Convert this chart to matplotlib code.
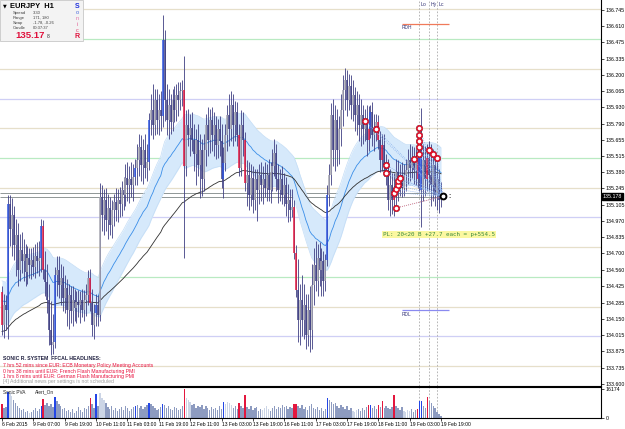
import numpy as np
import matplotlib.pyplot as plt

plt.rcParams['font.family'] = ['Liberation Sans', 'DejaVu Sans']

# EURJPY H1 bars
opens = [
    134.37, 134.10, 134.26, 134.22, 135.11, 134.90, 135.02, 134.77, 134.85, 134.56,
    134.73, 134.63, 134.69, 134.54, 134.66, 134.60, 134.64, 134.58, 134.68, 134.63,
    134.66, 134.93, 134.56, 134.46, 134.31, 134.05, 133.93, 133.95, 134.52, 134.56,
    134.43, 134.49, 134.32, 134.41, 134.22, 134.35, 134.21, 134.31, 134.24, 134.29,
    134.26, 134.31, 134.22, 134.31, 134.35, 134.49, 134.28, 134.10, 134.20, 134.26,
    134.18, 135.17, 135.02, 135.15, 134.98, 135.08, 134.94, 135.06, 135.13, 135.06,
    135.15, 135.11, 135.23, 135.19, 135.33, 135.27, 135.32, 135.27, 135.34, 135.42,
    135.48, 135.59, 135.44, 135.57, 135.42, 135.47, 135.82, 135.90, 135.78, 135.99,
    135.82, 135.90, 135.85, 136.49, 135.99, 135.82, 135.95, 135.80, 135.99, 135.90,
    136.03, 135.99, 136.06, 136.07, 135.43, 135.78, 135.69, 135.75, 135.65, 135.53,
    135.65, 135.44, 135.57, 135.32, 135.57, 135.78, 135.65, 135.82, 135.69, 135.78,
    135.61, 135.74, 135.64, 135.32, 135.46, 135.69, 135.86, 135.74, 135.95, 135.78,
    135.89, 135.69, 135.42, 135.78, 135.65, 135.29, 135.36, 135.19, 135.33, 135.15,
    135.32, 135.23, 135.36, 135.27, 135.32, 135.25, 135.36, 135.23, 135.38, 135.43,
    135.54, 135.32, 135.23, 135.32, 135.19, 135.27, 135.11, 135.15, 135.06, 135.09,
    134.70, 134.39, 134.14, 134.31, 134.14, 134.26, 134.01, 134.22, 134.05, 134.43,
    134.60, 134.47, 134.66, 134.56, 134.63, 134.47, 134.64, 135.19, 135.36, 135.86,
    135.57, 135.82, 135.57, 135.74, 135.90, 136.07, 136.16, 135.99, 136.11, 135.95,
    136.03, 135.86, 135.95, 135.78, 135.86, 135.74, 135.80, 135.65, 135.74, 135.89,
    135.69, 135.75, 135.80, 135.65, 135.48, 135.61, 135.44, 135.36, 135.15, 135.27,
    135.15, 135.25, 135.38, 135.27, 135.36, 135.25, 135.36, 135.40, 135.48, 135.42,
    135.50, 135.40, 135.50, 135.32, 135.57, 135.23, 135.48, 135.32, 135.50, 135.36,
    135.27, 135.44, 135.19, 135.32, 135.15,
]
highs = [
    134.42, 134.36, 134.35, 135.19, 135.19, 135.16, 135.10, 134.99, 134.95, 134.86,
    134.88, 134.82, 134.78, 134.76, 134.74, 134.74, 134.75, 134.78, 134.79, 134.80,
    134.99, 134.98, 134.72, 134.61, 134.44, 134.30, 134.19, 134.58, 134.68, 134.68,
    134.61, 134.59, 134.52, 134.48, 134.44, 134.42, 134.42, 134.40, 134.38, 134.39,
    134.38, 134.40, 134.39, 134.44, 134.56, 134.57, 134.40, 134.27, 134.36, 134.35,
    135.29, 135.27, 135.24, 135.25, 135.20, 135.17, 135.15, 135.20, 135.25, 135.24,
    135.26, 135.31, 135.34, 135.45, 135.47, 135.43, 135.47, 135.45, 135.49, 135.62,
    135.70, 135.69, 135.66, 135.70, 135.62, 135.88, 136.04, 136.12, 136.08, 136.08,
    136.04, 136.06, 136.70, 136.58, 136.12, 136.08, 136.04, 136.08, 136.11, 136.12,
    136.14, 136.14, 136.16, 136.36, 135.90, 135.91, 135.87, 135.89, 135.79, 135.74,
    135.79, 135.70, 135.66, 135.70, 135.87, 135.93, 135.91, 135.93, 135.89, 135.85,
    135.83, 135.85, 135.79, 135.59, 135.79, 135.95, 136.04, 136.06, 136.04, 135.98,
    135.97, 135.79, 135.90, 135.89, 135.72, 135.48, 135.47, 135.45, 135.43, 135.41,
    135.41, 135.45, 135.47, 135.43, 135.47, 135.45, 135.49, 135.47, 135.58, 135.66,
    135.62, 135.45, 135.41, 135.43, 135.37, 135.34, 135.28, 135.24, 135.24, 135.15,
    134.77, 134.65, 134.44, 134.52, 134.44, 134.36, 134.36, 134.42, 134.61, 134.74,
    134.80, 134.78, 134.79, 134.74, 134.72, 134.69, 135.27, 135.45, 135.96, 136.00,
    135.95, 135.91, 135.85, 136.04, 136.20, 136.26, 136.24, 136.21, 136.20, 136.16,
    136.10, 136.06, 136.04, 136.00, 135.95, 135.91, 135.95, 135.94, 135.95, 135.97,
    135.87, 135.87, 135.86, 135.73, 135.70, 135.70, 135.53, 135.49, 135.41, 135.37,
    135.37, 135.49, 135.48, 135.45, 135.47, 135.45, 135.49, 135.58, 135.62, 135.60,
    135.59, 135.58, 135.62, 135.70, 135.92, 135.62, 135.60, 135.62, 135.64, 135.62,
    135.58, 135.55, 135.48, 135.41, 135.30,
]
lows = [
    134.01, 133.99, 134.05, 133.98, 134.76, 134.68, 134.64, 134.51, 134.42, 134.47,
    134.53, 134.47, 134.42, 134.44, 134.49, 134.48, 134.51, 134.49, 134.53, 134.51,
    134.54, 134.48, 134.34, 134.20, 133.93, 133.84, 133.85, 133.90, 134.34, 134.32,
    134.26, 134.21, 134.20, 134.09, 134.06, 134.11, 134.09, 134.13, 134.11, 134.16,
    134.11, 134.16, 134.13, 134.17, 134.26, 134.21, 134.00, 133.98, 134.09, 134.09,
    134.13, 134.89, 134.85, 134.89, 134.82, 134.85, 134.83, 134.93, 134.97, 134.96,
    135.00, 135.01, 135.06, 135.10, 135.14, 135.12, 135.17, 135.14, 135.27, 135.27,
    135.35, 135.31, 135.28, 135.33, 135.31, 135.40, 135.69, 135.66, 135.69, 135.70,
    135.69, 135.73, 135.76, 135.81, 135.69, 135.66, 135.70, 135.73, 135.80, 135.81,
    135.85, 135.90, 135.94, 134.66, 135.35, 135.60, 135.52, 135.56, 135.39, 135.27,
    135.35, 135.16, 135.18, 135.22, 135.43, 135.52, 135.54, 135.56, 135.52, 135.49,
    135.50, 135.52, 135.25, 135.16, 135.39, 135.56, 135.60, 135.64, 135.60, 135.64,
    135.60, 135.35, 135.35, 135.52, 135.22, 135.10, 135.06, 135.10, 135.04, 135.06,
    134.97, 135.11, 135.14, 135.11, 135.17, 135.14, 135.14, 135.12, 135.22, 135.35,
    135.22, 135.12, 135.14, 135.11, 135.10, 135.01, 134.96, 134.97, 135.00, 134.65,
    134.33, 133.95, 133.93, 134.00, 133.98, 133.89, 133.92, 133.87, 133.89, 134.26,
    134.38, 134.34, 134.42, 134.34, 134.34, 134.38, 134.59, 135.10, 135.27, 135.43,
    135.39, 135.43, 135.45, 135.60, 135.77, 135.90, 135.85, 135.90, 135.83, 135.81,
    135.73, 135.69, 135.64, 135.60, 135.62, 135.64, 135.52, 135.56, 135.67, 135.60,
    135.56, 135.64, 135.58, 135.38, 135.39, 135.35, 135.27, 135.06, 135.01, 135.03,
    135.01, 135.10, 135.14, 135.18, 135.17, 135.18, 135.22, 135.28, 135.31, 135.33,
    135.28, 135.27, 135.25, 135.22, 134.92, 135.14, 135.18, 135.22, 135.22, 135.10,
    135.14, 135.10, 135.06, 135.04, 135.09,
]
closes = [
    134.10, 134.26, 134.22, 135.11, 134.90, 135.02, 134.77, 134.85, 134.56, 134.73,
    134.63, 134.69, 134.54, 134.66, 134.60, 134.64, 134.58, 134.68, 134.63, 134.66,
    134.93, 134.56, 134.46, 134.31, 134.05, 133.93, 133.95, 134.52, 134.56, 134.43,
    134.49, 134.32, 134.41, 134.22, 134.35, 134.21, 134.31, 134.24, 134.29, 134.26,
    134.31, 134.22, 134.31, 134.35, 134.49, 134.28, 134.10, 134.20, 134.26, 134.18,
    135.17, 135.02, 135.15, 134.98, 135.08, 134.94, 135.06, 135.13, 135.06, 135.15,
    135.11, 135.23, 135.19, 135.33, 135.27, 135.32, 135.27, 135.34, 135.42, 135.48,
    135.59, 135.44, 135.57, 135.42, 135.47, 135.82, 135.90, 135.78, 135.99, 135.82,
    135.90, 135.85, 136.49, 135.99, 135.82, 135.95, 135.80, 135.99, 135.90, 136.03,
    135.99, 136.06, 136.07, 135.43, 135.78, 135.69, 135.75, 135.65, 135.53, 135.65,
    135.44, 135.57, 135.32, 135.57, 135.78, 135.65, 135.82, 135.69, 135.78, 135.61,
    135.74, 135.64, 135.32, 135.46, 135.69, 135.86, 135.74, 135.95, 135.78, 135.89,
    135.69, 135.42, 135.78, 135.65, 135.29, 135.36, 135.19, 135.33, 135.15, 135.32,
    135.23, 135.36, 135.27, 135.32, 135.25, 135.36, 135.23, 135.38, 135.43, 135.54,
    135.32, 135.23, 135.32, 135.19, 135.27, 135.11, 135.15, 135.06, 135.09, 134.70,
    134.39, 134.14, 134.31, 134.14, 134.26, 134.01, 134.22, 134.05, 134.43, 134.60,
    134.47, 134.66, 134.56, 134.63, 134.47, 134.64, 135.19, 135.36, 135.86, 135.57,
    135.82, 135.57, 135.74, 135.90, 136.07, 136.16, 135.99, 136.11, 135.95, 136.03,
    135.86, 135.95, 135.78, 135.86, 135.74, 135.80, 135.65, 135.74, 135.89, 135.69,
    135.75, 135.80, 135.65, 135.48, 135.61, 135.44, 135.36, 135.15, 135.27, 135.15,
    135.25, 135.38, 135.27, 135.36, 135.25, 135.36, 135.40, 135.48, 135.42, 135.50,
    135.40, 135.50, 135.32, 135.57, 135.23, 135.48, 135.32, 135.50, 135.36, 135.27,
    135.44, 135.19, 135.32, 135.15, 135.178,
]
volumes = [
    7800, 5600, 6200, 14500, 14000, 12300, 10100, 8400, 6700, 5600,
    4500, 5000, 3400, 3900, 2800, 3400, 4500, 5600, 3900, 5000,
    6700, 10600, 7300, 8400, 6700, 7800, 6200, 11800, 9500, 7800,
    6700, 5000, 5600, 3900, 4500, 3400, 5000, 2800, 3900, 6200,
    4500, 3400, 5600, 5000, 6700, 11200, 7800, 5600, 13400, 6700,
    14000, 11200, 10100, 8400, 6200, 5000, 6700, 4500, 5600, 3900,
    5000, 6200, 4500, 6700, 5600, 3900, 5000, 6200, 6700, 7300,
    5600, 6700, 5000, 6200, 7300, 8400, 7800, 6700, 5600, 4500,
    5000, 6200, 7800, 7300, 5600, 6700, 5000, 4500, 6200, 5600,
    4500, 5000, 6700, 16174, 11200, 10100, 9000, 7300, 7800, 5600,
    6700, 6200, 7300, 5000, 6700, 5600, 4500, 6200, 5000, 5600,
    4500, 6700, 5000, 9000, 7800, 9000, 8400, 7300, 5600, 6700,
    5000, 8400, 6700, 5600, 12900, 6200, 5000, 6700, 4500, 5600,
    6200, 3900, 5000, 4500, 5600, 6700, 5000, 3900, 5600, 6700,
    5000, 6200, 5600, 7300, 6200, 6700, 5000, 6200, 5600, 7800,
    7800, 6700, 5600, 7300, 5000, 6200, 4500, 6700, 7800, 5600,
    5000, 6200, 4500, 5600, 3900, 5000, 11200, 10100, 9000, 7800,
    8400, 6700, 5600, 7300, 6200, 5000, 6700, 4500, 5600, 3900,
    3400, 4500, 5000, 3900, 5600, 4500, 6200, 7300, 7300, 5600,
    6700, 5000, 7300, 6200, 9500, 5600, 6700, 5600, 5000, 6200,
    12900, 6700, 5600, 4500, 6200, 3900, 3400, 4500, 3900, 5000,
    3400, 4500, 5000, 9500, 9500, 6700, 5600, 11800, 9500, 8400,
    6700, 5600, 3400, 2200, 1100,
]
# PVA class per bar: n normal, l rising, b bull climax, r bear climax
pva = list(
    "rnnbllnnnn" "nnnnlnnnnn" "brnnnnnbnn" "nnnnnnnnnn" "nnnnnrnnbn"
    "lllnnnnnnn" "nnnnnnnnbn" "nnnnnbnnnn" "nnbnnnnnnn" "nnnrlllnnn"
    "nnnnnnnnnn" "nnnbllllnn" "nrnnrnnnnn" "nnnllllnnn" "nnnnnnnnnr"
    "rnnnnnnnnn" "nnnnnnbnnn" "nnnnnnnnnl" "llnnnnnrbn" "nnrnrnnnnn"
    "rnnnnlllln" "nnrbbnnrnn" "nnnnn"
)

ytick_labels = ['136.745', '136.610', '136.475', '136.335', '136.200', '136.065',
                '135.930', '135.790', '135.655', '135.515', '135.380', '135.245',
                '135.105', '134.970', '134.835', '134.700', '134.560', '134.425',
                '134.285', '134.150', '134.015', '133.875', '133.735', '133.600']
xtick_bars = [0, 16, 32, 48, 64, 80, 96, 112, 128, 144, 160, 176, 192, 208, 224]
xtick_labels = ['6 Feb 2015', '9 Feb 07:00', '9 Feb 19:00', '10 Feb 11:00',
                '11 Feb 03:00', '11 Feb 19:00', '12 Feb 11:00', '13 Feb 03:00',
                '13 Feb 19:00', '16 Feb 11:00', '17 Feb 03:00', '17 Feb 19:00',
                '18 Feb 11:00', '19 Feb 03:00', '19 Feb 19:00']

quarter_levels = [136.75, 136.50, 136.25, 136.00, 135.75, 135.50, 135.25,
                  135.00, 134.75, 134.50, 134.25, 134.00, 133.75]

trade_bars = [185, 191, 196, 196, 200, 201, 202, 202, 203, 201,
              210, 213, 213, 213, 213, 213, 218, 220, 222]
trade_prices = [135.81, 135.74, 135.44, 135.37, 135.21, 135.24, 135.27, 135.31, 135.33, 135.08,
                135.49, 135.75, 135.69, 135.64, 135.59, 135.53, 135.57, 135.53, 135.50]
bid = 135.178
be_lines = [135.206, 135.172]
rdh, rdl = 136.627, 134.222
day_marks = [213, 218, 222]
day_names = ['Lo', 'Hy', 'Lc']

n = len(closes)
idx = np.arange(n)


def ema(values, period, seed):
    k = 2.0 / (period + 1)
    out = []
    prev = seed
    for v in values:
        prev = prev + k * (v - prev)
        out.append(prev)
    return np.array(out)


ema_mid = ema(closes, 34, 134.31)
ema_hi = ema(highs, 34, 134.47)
ema_lo = ema(lows, 34, 134.12)
ema_slow = ema(closes, 89, 134.04)

fig = plt.figure(figsize=(6.25, 4.29), dpi=100)
fig.patch.set_facecolor('white')
ax = fig.add_axes([0, 43 / 429, 601 / 625, 386 / 429])
ax2 = fig.add_axes([0, 11 / 429, 601 / 625, 31 / 429])
xl = (-1.02, 305.6)

# quarter levels
lvl_col = {0: '#e6dfca', 1: '#b9eac2', 2: '#e6dfca', 3: '#cfcff5'}
for k, lv in enumerate(quarter_levels):
    ax.axhline(lv, color=lvl_col[k % 4], lw=0.9, zorder=0)
for lv in be_lines:
    ax.hlines(lv, xl[0], 225, color='#8f9696', lw=0.7, zorder=1)

# sonic R dragon band
ax.fill_between(idx, ema_lo, ema_hi, color='#d6e9fb', lw=0, zorder=1)
ax.plot(idx, ema_hi, color='#c4ddf6', lw=0.5, zorder=1)
ax.plot(idx, ema_lo, color='#c4ddf6', lw=0.5, zorder=1)
ax.plot(idx, ema_mid, color='#3a8ee8', lw=0.6, zorder=2)
ax.plot(idx, ema_slow, color='#303030', lw=0.6, zorder=2)

# bars
wick = '#3e3e82'
body_col = []
for o, c, p in zip(opens, closes, pva):
    if p == 'b':
        body_col.append('#2f55de')
    elif p == 'r':
        body_col.append('#e3173e')
    elif c >= o:
        body_col.append('#a6a6b0')
    else:
        body_col.append(wick)
ax.vlines(idx, lows, highs, color=wick, lw=0.6, zorder=3)
ax.vlines(idx, np.minimum(opens, closes), np.maximum(opens, closes),
          colors=body_col, lw=1.1, zorder=4)

# day separators
for b in day_marks:
    ax.axvline(b, color='#ababab', lw=0.6, ls=(0, (2, 2)), zorder=1)
    ax2.axvline(b, color='#ababab', lw=0.6, ls=(0, (2, 2)), zorder=1)
for b, name in zip(day_marks, day_names):
    ax.text(b + 0.8, 136.787, name, fontsize=3.8, color='#3a3a7a', va='center')

# range lines
ax.hlines(rdh, 204, 228, color='#f07a5a', lw=0.9, zorder=2)
ax.text(204, 136.60, 'RDH', fontsize=3.5, color='#3a3a7a', va='center')
ax.hlines(rdl, 204, 228, color='#8a8af0', lw=0.9, zorder=2)
ax.text(204, 134.185, 'RDL', fontsize=3.5, color='#3a3a7a', va='center')

# trades
for tb, tp in zip(trade_bars, trade_prices):
    ax.plot([tb, 225], [tp, bid], color='#8db4ee', lw=0.5, ls=(0, (1.5, 1.5)), zorder=5)
ax.plot([201, 225], [135.08, bid], color='#f07070', lw=0.6, ls=(0, (1, 1.5)), zorder=5)
ax.plot(trade_bars, trade_prices, 'o', ms=4.6, mfc='none', mec='#202020', mew=0.4, zorder=6)
ax.plot(trade_bars, trade_prices, 'o', ms=3.7, mfc='white', mec='#e0102a', mew=1.1, zorder=7)
ax.plot([225], [bid], 'o', ms=4.2, mfc='white', mec='black', mew=1.4, zorder=7)
ax.text(227.5, bid, ':', fontsize=5, color='black', va='center', fontweight='bold')

ax.text(194.4, 134.857, 'PL: 20<20 B +27.7 each = p+554.5', family='DejaVu Sans Mono',
        fontsize=4.2, color='#3c8a3c', va='center', zorder=8,
        bbox=dict(boxstyle='square,pad=0.12', fc='#fbf8a0', ec='none'))

ax.set_xlim(*xl)
ax.set_ylim(133.583, 136.829)
ax.yaxis.tick_right()
ax.set_yticks([float(s) for s in ytick_labels])
ax.set_yticklabels(ytick_labels, fontsize=3.8)
ax.tick_params(axis='y', length=2, width=0.5, pad=1.5)
ax.set_xticks([])
for s in ['top', 'left']:
    ax.spines[s].set_visible(False)
ax.spines['right'].set_linewidth(0.8)
ax.spines['bottom'].set_linewidth(0.8)

ax.text(1.003, bid, '135.178', transform=ax.get_yaxis_transform(), fontsize=3.8,
        color='white', va='center', ha='left',
        bbox=dict(boxstyle='square,pad=0.15', fc='black', ec='black'))

# volume panel
vcol = {'n': '#8d9bc0', 'l': '#ccd5e6', 'b': '#2346e6', 'r': '#e3173e'}
ax2.bar(idx, volumes, width=0.7, color=[vcol[p] for p in pva], zorder=2)
ax2.set_xlim(*xl)
ax2.set_ylim(0, 17290)
ax2.yaxis.tick_right()
ax2.set_yticks([0, 16174])
ax2.set_yticklabels(['0', '16174'], fontsize=3.8)
ax2.tick_params(axis='y', length=2, width=0.5, pad=1.5)
ax2.set_xticks(xtick_bars)
ax2.set_xticklabels(xtick_labels, fontsize=3.6, ha='left')
ax2.tick_params(axis='x', length=2, width=0.5, pad=1.0)
ax2.spines['left'].set_visible(False)
for s in ['top', 'bottom', 'right']:
    ax2.spines[s].set_linewidth(0.8)

# overlay for panel texts (pixel coordinates)
ov = fig.add_axes([0, 0, 1, 1], zorder=10)
ov.set_xlim(0, 625)
ov.set_ylim(429, 0)
ov.axis('off')
ov.patch.set_alpha(0)

ov.add_patch(plt.Rectangle((0, 0), 83, 41, fc='#f3f3f3', ec='#c8c8c8', lw=0.6))
ov.text(3, 6, '\u25bc', fontsize=3.5, family='DejaVu Sans', va='center')
ov.text(10, 6, 'EURJPY  H1', fontsize=5.4, fontweight='bold', va='center')
info = [('Spread', '3.30'), ('Range', '171, 180'), ('Swap', '-1.78, -0.26'), ('Candle', '00:37:37')]
for k, (a, b) in enumerate(info):
    ov.text(13, 13 + 5 * k, a, fontsize=3.0, color='#404040', va='center')
    ov.text(33, 13 + 5 * k, b, fontsize=3.0, color='#404040', va='center')
ov.text(15, 36, '135.17', fontsize=6.8, fontweight='bold', color='#e0103c', va='center')
ov.text(47, 37, '8', fontsize=3.6, color='#303030', va='center')
sonic = [('S', '#2233dd', 5.0, 'bold', 6), ('o', '#4466dd', 4.0, 'normal', 13),
         ('n', '#e070a8', 4.0, 'normal', 19), ('i', '#e05890', 4.0, 'normal', 25),
         ('c', '#e04070', 4.0, 'normal', 30), ('R', '#e0103c', 5.0, 'bold', 36)]
for ch, col, fs, fw, yy in sonic:
    ov.text(77, yy, ch, fontsize=fs, color=col, fontweight=fw, va='center', ha='center')

ov.text(3, 358, 'SONIC R. SYSTEM  FFCAL HEADLINES:', fontsize=3.7, fontweight='bold',
        color='#202040', va='center')
news = ['7 hrs 52 mins since EUR: ECB Monetary Policy Meeting Accounts',
        '0 hrs 38 mins until EUR: French Flash Manufacturing PMI',
        '1 hrs 8 mins until EUR: German Flash Manufacturing PMI']
for k, line in enumerate(news):
    ov.text(3, 366 + 5.2 * k, line, fontsize=3.7, color='#e8113f', va='center')
ov.text(3, 382, '[4] Additional news per settings is not scheduled', fontsize=3.7,
        color='#a0a0a0', va='center')
ov.text(3, 392, 'Sonic PVA', fontsize=3.4, color='#202020', va='center')
ov.text(35, 392, 'Alert_On', fontsize=3.4, color='#202020', va='center')

fig.savefig('out.png', dpi=100, facecolor='white')
